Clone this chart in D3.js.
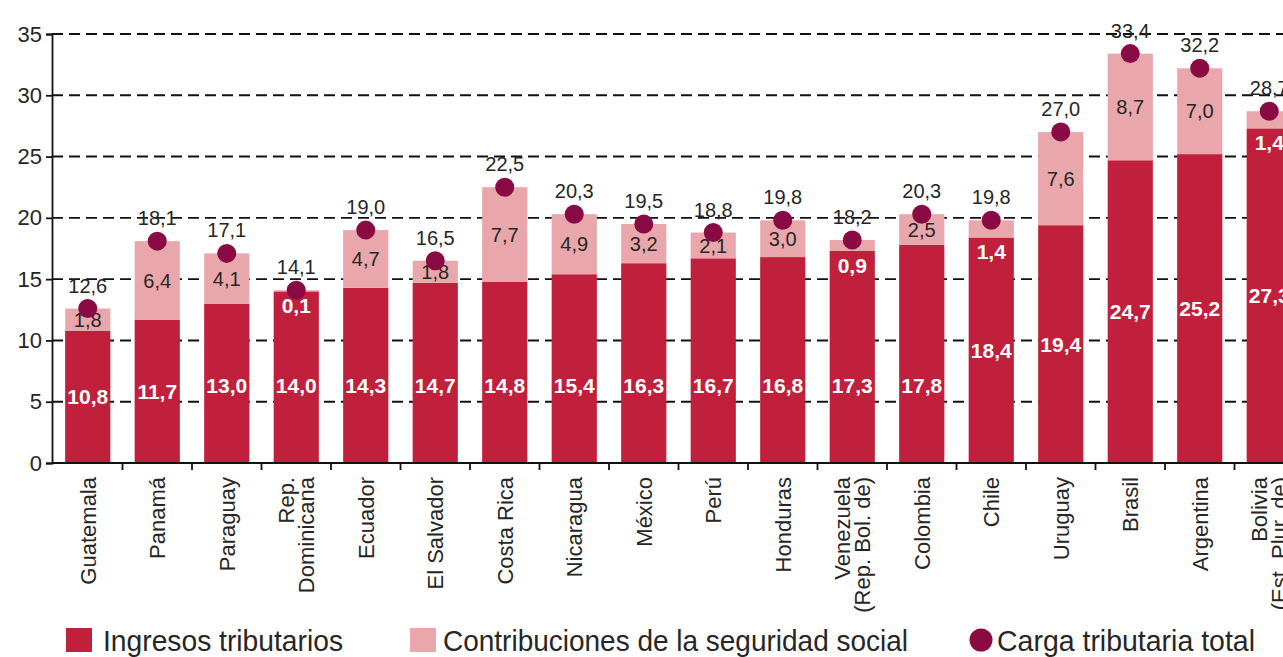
<!DOCTYPE html>
<html>
<head>
<meta charset="utf-8">
<script src="https://cdn.jsdelivr.net/npm/d3@7"></script>
<style>
  html, body { margin: 0; padding: 0; background: #fff; }
  svg { display: block; font-family: "Liberation Sans", Arial, sans-serif; }
</style>
</head>
<body>
<svg id="chart" width="1283" height="657"></svg>
<script>
// ---- data ----
const categories = ["Guatemala", "Panamá", "Paraguay", "Rep.\nDominicana", "Ecuador", "El Salvador",
  "Costa Rica", "Nicaragua", "México", "Perú", "Honduras", "Venezuela\n(Rep. Bol. de)",
  "Colombia", "Chile", "Uruguay", "Brasil", "Argentina", "Bolivia\n(Est. Plur. de)"];
const ingresosTributarios = [10.8, 11.7, 13.0, 14.0, 14.3, 14.7, 14.8, 15.4, 16.3, 16.7, 16.8, 17.3, 17.8, 18.4, 19.4, 24.7, 25.2, 27.3];
const seguridadSocial     = [1.8, 6.4, 4.1, 0.1, 4.7, 1.8, 7.7, 4.9, 3.2, 2.1, 3.0, 0.9, 2.5, 1.4, 7.6, 8.7, 7.0, 1.4];
const cargaTotal          = [12.6, 18.1, 17.1, 14.1, 19.0, 16.5, 22.5, 20.3, 19.5, 18.8, 19.8, 18.2, 20.3, 19.8, 27.0, 33.4, 32.2, 28.7];
const yTicks = [0, 5, 10, 15, 20, 25, 30, 35];
const legendLabels = ["Ingresos tributarios", "Contribuciones de la seguridad social", "Carga tributaria total"];

// ---- style ----
const C_DARK = "#C0203C", C_PINK = "#E9A7AB", C_DOT = "#8A0A44", C_TEXT = "#262626";
const fmt = v => v.toFixed(1).replace(".", ",");

const svg = d3.select("#chart");
const x = d3.scaleBand().domain(categories).range([53, 1304]).paddingInner(0.35).paddingOuter(0.175);
const y = d3.scaleLinear().domain([0, 35]).range([463, 34]);
const xLeft = 52;

// grid
svg.append("g").selectAll("line").data(yTicks.filter(d => d > 0)).join("line")
  .attr("x1", xLeft).attr("x2", 1283)
  .attr("y1", d => y(d)).attr("y2", d => y(d))
  .attr("stroke", "#111").attr("stroke-width", 1.9).attr("stroke-dasharray", "11,6");

// bars
const data = categories.map((c, i) => ({ c, a: ingresosTributarios[i], b: seguridadSocial[i], t: cargaTotal[i] }));
const g = svg.append("g");
g.selectAll("rect.a").data(data).join("rect").attr("class", "a")
  .attr("x", d => x(d.c)).attr("width", x.bandwidth())
  .attr("y", d => y(d.a)).attr("height", d => y(0) - y(d.a)).attr("fill", C_DARK);
g.selectAll("rect.b").data(data).join("rect").attr("class", "b")
  .attr("x", d => x(d.c)).attr("width", x.bandwidth())
  .attr("y", d => y(d.a + d.b)).attr("height", d => y(d.a) - y(d.a + d.b)).attr("fill", C_PINK);

// axes
const yAxis = d3.axisLeft(y).tickValues(yTicks).tickSize(6).tickPadding(4).tickFormat(d3.format("d"));
const ya = svg.append("g").attr("transform", `translate(${xLeft},0)`).call(yAxis);
ya.select(".domain").attr("stroke", "#111").attr("stroke-width", 1.8);
ya.selectAll(".tick line").attr("stroke", "#111").attr("stroke-width", 1.8);
ya.selectAll(".tick text").attr("font-size", 22).attr("fill", C_TEXT)
  .attr("font-family", "Liberation Sans, Arial, sans-serif");

// x axis line and ticks at band boundaries
svg.append("line").attr("x1", xLeft).attr("x2", 1283).attr("y1", y(0)).attr("y2", y(0))
  .attr("stroke", "#111").attr("stroke-width", 1.9);
const step = x.step();
svg.append("g").selectAll("line").data(categories.slice(1)).join("line")
  .attr("x1", d => x(d) - step * x.paddingInner() / 2).attr("x2", d => x(d) - step * x.paddingInner() / 2)
  .attr("y1", y(0)).attr("y2", y(0) + 7).attr("stroke", "#111").attr("stroke-width", 1.8);

// category labels
const cl = svg.append("g").selectAll("text").data(categories).join("text")
  .attr("transform", d => `translate(${x(d) + x.bandwidth() / 2},${y(0) + 14}) rotate(-90)`)
  .attr("text-anchor", "end").attr("font-size", 22).attr("fill", C_TEXT);
cl.each(function (d) {
  const lines = d.split("\n");
  const lh = 20;
  d3.select(this).selectAll("tspan").data(lines).join("tspan")
    .attr("x", 0)
    .attr("y", (l, i) => (i - (lines.length - 1) / 2) * lh)
    .attr("dy", "0.36em")
    .text(l => l);
});

// labels: ingresos (white bold)
g.selectAll("text.a").data(data).join("text").attr("class", "a")
  .attr("x", d => x(d.c) + x.bandwidth() / 2)
  .attr("y", d => y(d.a < 18 ? Math.min(d.a / 2, 6.3) : d.a / 2))
  .attr("dy", "0.36em").attr("text-anchor", "middle")
  .attr("font-size", 21).attr("font-weight", "bold").attr("fill", "#fff")
  .text(d => fmt(d.a));

// labels: seguridad social
g.selectAll("text.b").data(data).join("text").attr("class", "b")
  .attr("x", d => x(d.c) + x.bandwidth() / 2)
  .attr("y", d => d.b < 1.5 ? y(d.a) + 14 : y(d.a + d.b / 2))
  .attr("dy", "0.36em").attr("text-anchor", "middle")
  .attr("font-size", d => d.b < 1.5 ? 21 : 20)
  .attr("font-weight", d => d.b < 1.5 ? "bold" : "normal")
  .attr("fill", d => d.b < 1.5 ? "#fff" : C_TEXT)
  .text(d => fmt(d.b));

// dots
g.selectAll("circle").data(data).join("circle")
  .attr("cx", d => x(d.c) + x.bandwidth() / 2).attr("cy", d => y(d.t))
  .attr("r", 9.5).attr("fill", C_DOT);

// total labels
g.selectAll("text.t").data(data).join("text").attr("class", "t")
  .attr("x", d => x(d.c) + x.bandwidth() / 2).attr("y", d => y(d.t) - 16)
  .attr("text-anchor", "middle").attr("font-size", 20).attr("fill", C_TEXT)
  .text(d => fmt(d.t));

// legend
const lg = svg.append("g");
const legendItems = [
  { label: legendLabels[0], type: "rect", color: C_DARK, sx: 66, tx: 103, w: 240 },
  { label: legendLabels[1], type: "rect", color: C_PINK, sx: 410, tx: 443, w: 465 },
  { label: legendLabels[2], type: "circle", color: C_DOT, sx: 970, tx: 997, w: 258 }
];
legendItems.forEach(it => {
  if (it.type === "rect") {
    lg.append("rect").attr("x", it.sx).attr("y", 628).attr("width", 26).attr("height", 24).attr("fill", it.color);
  } else {
    lg.append("circle").attr("cx", it.sx + 11).attr("cy", 640).attr("r", 11.5).attr("fill", it.color);
  }
  lg.append("text").attr("x", it.tx).attr("y", 651).attr("font-size", 29).attr("fill", C_TEXT)
    .attr("textLength", it.w).attr("lengthAdjust", "spacingAndGlyphs").text(it.label);
});
</script>
</body>
</html>
